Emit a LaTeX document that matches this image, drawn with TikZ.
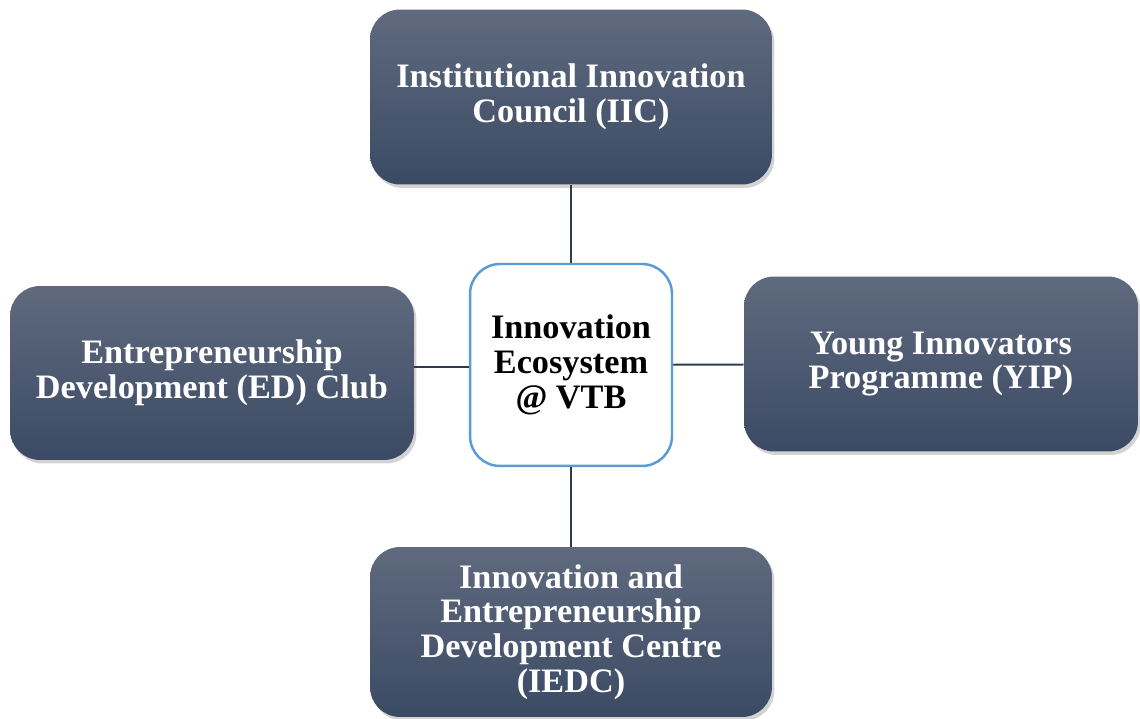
\documentclass[tikz,border=0pt]{standalone}
\usepackage{fontspec}
\setmainfont{Liberation Serif}
\usetikzlibrary{positioning, shadows}

\definecolor{boxtop}{HTML}{5F6A7E}
\definecolor{boxbot}{HTML}{3B4A64}
\definecolor{hubline}{HTML}{5B9BD5}
\definecolor{linkcol}{HTML}{2E3A4F}

\tikzset{
  unit/.style={rounded corners=0.6cm, top color=boxtop, bottom color=boxbot,
    text=white, font=\bfseries\fontsize{19.5}{19.8}\selectfont, align=center,
    drop shadow={shadow xshift=0.05cm, shadow yshift=-0.07cm, opacity=0.35},
    inner sep=0pt},
  hub/.style={rounded corners=0.6cm, draw=hubline, line width=1.4pt, fill=white,
    font=\bfseries\fontsize{19.5}{19.8}\selectfont, align=center,
    minimum width=4.04cm, minimum height=4.04cm, inner sep=0pt},
  link/.style={draw=linkcol, line width=1.1pt}
}

\begin{document}
\begin{tikzpicture}[x=0.02cm, y=-0.02cm]
			\useasboundingbox (0,0) rectangle (1140,719);
	
			% Centre
			\node[hub] (VTB) at (571,365) {Innovation\\Ecosystem\\@ VTB};
	
			% Surrounding units
			\node[unit, minimum width=8.04cm, minimum height=3.5cm] (IIC) at (571,97) {Institutional Innovation\\Council (IIC)};
			\node[unit, minimum width=8.08cm, minimum height=3.48cm] (EDC) at (212,373) {Entrepreneurship\\Development (ED) Club};
			\node[unit, minimum width=7.88cm, minimum height=3.5cm] (YIP) at (941,364) {Young Innovators\\Programme (YIP)};
			\node[unit, minimum width=8.04cm, minimum height=3.4cm] (IEDC) at (571,632) {Innovation and\\Entrepreneurship\\Development Centre\\(IEDC)};
	
			% Links
			\draw[link] (IIC) -- (VTB);
			\draw[link] (VTB) -- (IEDC);
			\draw[link] ([yshift=-0.04cm]VTB.west) -- ([yshift=-0.04cm]VTB.west -| EDC.east);
			\draw[link] (VTB) -- (YIP);
		\end{tikzpicture}
\end{document}
